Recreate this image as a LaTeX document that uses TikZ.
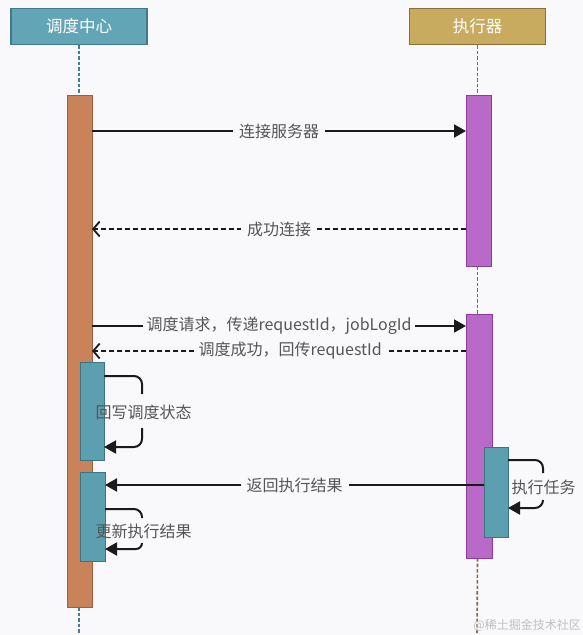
\documentclass[tikz,border=0pt]{standalone}
\usepackage{fontspec}
\setmainfont{Noto Sans CJK SC}
\usetikzlibrary{arrows.meta}
\definecolor{bg}{HTML}{F9F9FB}
\definecolor{hdteal}{HTML}{62A5B7}
\definecolor{hdtealB}{HTML}{3F7B8C}
\definecolor{hdgold}{HTML}{C8AB5E}
\definecolor{hdgoldB}{HTML}{87703A}
\definecolor{orangeF}{HTML}{C9825A}
\definecolor{orangeB}{HTML}{A05E3A}
\definecolor{purpleF}{HTML}{B969C7}
\definecolor{purpleB}{HTML}{8A3E9C}
\definecolor{tealF}{HTML}{5C9FB1}
\definecolor{tealB}{HTML}{3C7484}
\definecolor{lineTeal}{HTML}{3F7F96}
\definecolor{lineBrown}{HTML}{85684A}
\definecolor{txt}{HTML}{555555}
\definecolor{arr}{HTML}{1A1A1A}
\tikzset{
  header/.style={draw=#1, line width=1.2pt, minimum width=136pt, minimum height=36pt, inner sep=0pt, text=white, font=\fontsize{16.5}{16}\selectfont},
  actbox/.style={draw=#1, line width=1pt},
  life/.style={draw=#1, line width=1.6pt, dash pattern=on 3.5pt off 2pt},
  loopline/.style={draw=arr, line width=2pt},
  msg/.style={draw=arr, line width=2pt, -{Triangle[length=12pt,width=13pt]}},
  reply/.style={draw=arr, line width=1.8pt, dash pattern=on 5pt off 3pt, -{Straight Barb[length=6.5pt,width=15pt,line width=1.8pt]}},
  lbl/.style={fill=bg, text=txt, inner xsep=6pt, inner ysep=1pt, font=\fontsize{16}{16}\selectfont},
  slbl/.style={text=txt, inner sep=0pt, font=\fontsize{16}{16}\selectfont},
}
\begin{document}
\begin{tikzpicture}[x=1pt,y=-1pt]
\fill[bg] (0,0) rectangle (583,635);
\useasboundingbox (0,0) rectangle (583,635);

% headers
\node[header=hdtealB, fill=hdteal] (hdL) at (79,26.5) {调度中心};
\node[header=hdgoldB, fill=hdgold] (hdR) at (477.5,26.5) {执行器};

% lifelines
\coordinate (lifeLend) at (79,635);
\coordinate (lifeRend) at (477,635);
\draw[life=lineTeal] (hdL.south) -- (79,95);
\draw[life=lineTeal] (79,607) -- (lifeLend);
\draw[life=lineBrown] (hdR.south) -- (477.5,95);
\draw[life=lineBrown] (477.5,266) -- (477.5,314);
\draw[life=lineBrown] (477.5,558) -- (lifeRend);

% activation bars
\draw[actbox=orangeB, fill=orangeF] (67,95) rectangle (92,607);
\draw[actbox=purpleB, fill=purpleF] (466,95) rectangle (491,266);
\draw[actbox=purpleB, fill=purpleF] (466,314) rectangle (492,558);
\draw[actbox=tealB, fill=tealF] (80,362) rectangle (104,460);
\draw[actbox=tealB, fill=tealF] (80,472) rectangle (105,561);
\draw[actbox=tealB, fill=tealF] (484,447) rectangle (508,537);

% messages
\coordinate (m1s) at (92,131); \coordinate (m1e) at (466,131);
\draw[msg] (m1s) -- node[lbl] {连接服务器} (m1e);
\coordinate (m2s) at (466,229); \coordinate (m2e) at (92,229);
\draw[reply] (m2s) -- node[lbl] {成功连接} (m2e);
\coordinate (m3s) at (92,326); \coordinate (m3e) at (466,326);
\draw[msg] (m3s) -- node[lbl, inner xsep=4pt] {调度请求，传递requestId，jobLogId} (m3e);
\coordinate (m4s) at (466,351); \coordinate (m4e) at (92,351);
\draw[reply] (m4s) -- node[lbl, inner xsep=5pt, pos=0.47] {调度成功，回传requestId} (m4e);
\coordinate (m5s) at (484,485); \coordinate (m5e) at (105,485);
\draw[msg] (m5s) -- node[lbl, pos=0.50] {返回执行结果} (m5e);

% self loops
\node[slbl] (s1) at (143.5,412) {回写调度状态};
\draw[loopline] (104,376) -- (134,376) arc[start angle=-90, end angle=0, radius=8] -- (142,394);
\draw[msg] (142,428) -- (142,439) arc[start angle=0, end angle=90, radius=8] -- (104,447);

\node[slbl] (s2) at (143.5,531) {更新执行结果};
\draw[loopline] (105,509) -- (134,509) arc[start angle=-90, end angle=0, radius=8] -- (142,518);
\draw[msg] (142,543) arc[start angle=0, end angle=90, radius=6] -- (105,549);

\node[slbl] (s3) at (543.5,487) {执行任务};
\draw[loopline] (508,460) -- (535,460) arc[start angle=-90, end angle=0, radius=8] -- (543,473);
\draw[msg] (543,500) arc[start angle=0, end angle=90, radius=8] -- (508,508);

% watermark
\node[text=black!25, font=\fontsize{12}{12}\selectfont, anchor=east, inner sep=0pt] (wm) at (581,625) {@稀土掘金技术社区};
\end{tikzpicture}
\end{document}
